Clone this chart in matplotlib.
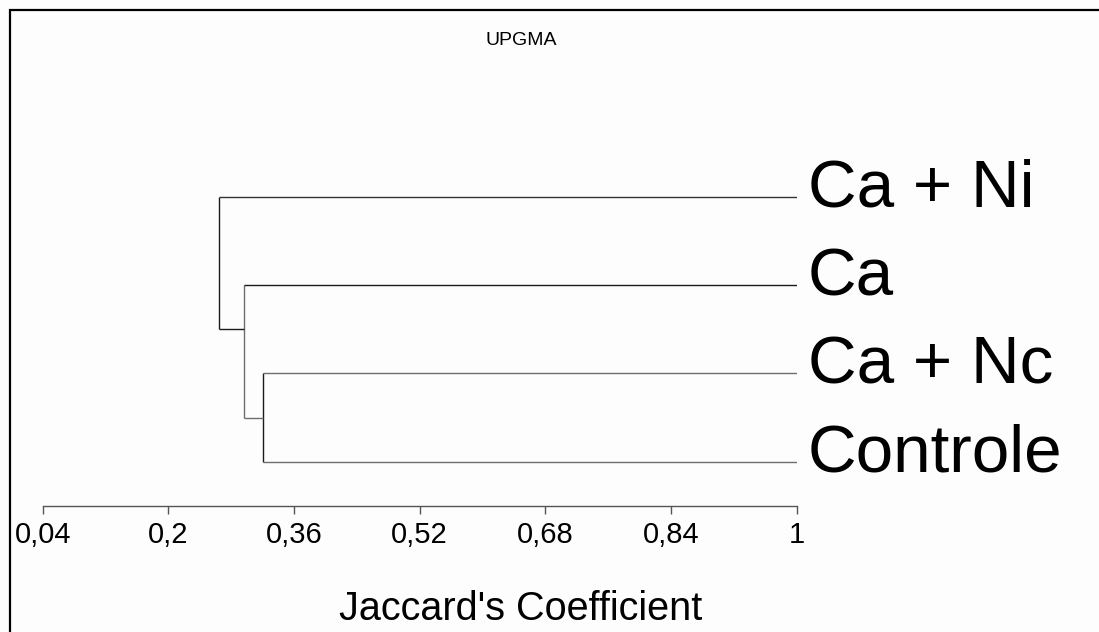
import matplotlib
matplotlib.use("Agg")
import matplotlib.pyplot as plt
from matplotlib.patches import Rectangle

plt.rcParams['font.family'] = ['Liberation Sans', 'DejaVu Sans']

# leaves, top to bottom
labels = ['Ca + Ni', 'Ca', 'Ca + Nc', 'Controle']

# UPGMA merges (children are leaf ids 0-3 or new node ids 4, 5, 6)
merge_left = [2, 1, 0]
merge_right = [3, 4, 5]
merge_height = [0.3205, 0.296, 0.265]

tick_vals = [0.04, 0.2, 0.36, 0.52, 0.68, 0.84, 1]
tick_text = ['0,04', '0,2', '0,36', '0,52', '0,68', '0,84', '1']

bg = '#fdfdfd'
fig = plt.figure(figsize=(10.99, 6.32), dpi=100, facecolor=bg)
W, H = 1099, 632

# outer frame (right and bottom run past the image edge)
fig.patches.append(Rectangle((9.5 / W, -0.1), 1.2, 1 - 9.5 / H + 0.1,
                             transform=fig.transFigure, fill=False,
                             ec='black', lw=1.6))

ax = fig.add_axes([42.7 / W, 1 - 506 / H, (796.7 - 42.7) / W, (506 - 108.4) / H])
ax.set_facecolor('none')
ax.set_xlim(0.04, 1)
ax.set_ylim(3.5, -1.0)

# y of each node: leaves sit at their index, internal nodes where their stem attaches
node_y = {i: float(i) for i in range(len(labels))}
node_y[4] = 2.5
node_y[5] = 1.5

dark, light = '#1a1a1a', '#6e6e6e'
stem_color = {0: '#333333', 1: dark, 2: light, 3: light, 4: light, 5: dark}
vert_color = [dark, light, dark]

parent_h = {}
for k in range(len(merge_height)):
    parent_h[merge_left[k]] = merge_height[k]
    parent_h[merge_right[k]] = merge_height[k]

# vertical joins
for k in range(len(merge_height)):
    a, b = node_y[merge_left[k]], node_y[merge_right[k]]
    ax.plot([merge_height[k], merge_height[k]], [a, b], color=vert_color[k],
            lw=1.0, solid_capstyle='butt')

# horizontal stems: leaves run out to 1, inner nodes to their own height
for n, h in parent_h.items():
    if n < len(labels):
        end = 1.0
    else:
        end = merge_height[n - len(labels)]
    ax.plot([h, end], [node_y[n], node_y[n]], color=stem_color[n], lw=1.0,
            solid_capstyle='butt')

# leaf names
for i, name in enumerate(labels):
    ax.annotate(name, xy=(1.0, i), xytext=(8, -7.3), textcoords='offset points',
                fontsize=48.5, ha='left', va='baseline', color='black',
                annotation_clip=False)

for s in ['top', 'right', 'left']:
    ax.spines[s].set_visible(False)
ax.spines['bottom'].set_color('#555555')
ax.spines['bottom'].set_linewidth(1.0)
ax.set_yticks([])
ax.set_xticks(tick_vals)
ax.set_xticklabels(tick_text, fontsize=21)
ax.tick_params(axis='x', direction='out', length=6, width=1.0, color='#555555', pad=5)

fig.text(521 / W, 1 - 620 / H, "Jaccard's Coefficient", fontsize=28.5,
         ha='center', va='baseline')
fig.text(521 / W, 1 - 45 / H, 'UPGMA', fontsize=14, ha='center', va='baseline')

fig.savefig('out.png', dpi=100, facecolor=bg)
